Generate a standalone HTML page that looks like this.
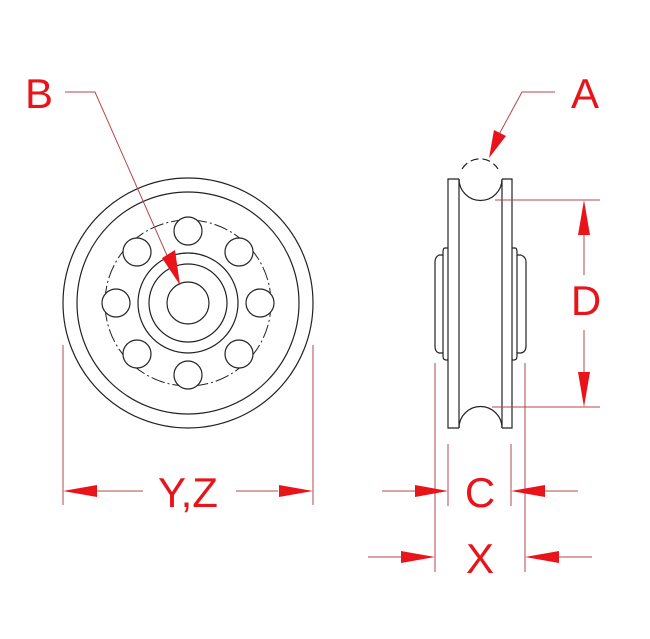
<!DOCTYPE html>
<html><head><style>html,body{margin:0;padding:0;background:#fff}svg{display:block}</style></head>
<body>
<svg width="650" height="639" viewBox="0 0 650 639" xmlns="http://www.w3.org/2000/svg">
<g fill="none" stroke="#222" stroke-width="1.2">
  <circle cx="188" cy="303" r="125"/>
  <circle cx="188" cy="303" r="111"/>
  <circle cx="188" cy="303" r="83" stroke-dasharray="14 3 2 3" stroke-width="1"/>
  <circle cx="188" cy="303" r="50"/>
  <circle cx="188" cy="303" r="39"/>
  <circle cx="188" cy="303" r="21"/>
  <g fill="#fff">
  <circle cx="188" cy="231" r="14"/><circle cx="188" cy="375" r="14"/>
  <circle cx="116" cy="303" r="14"/><circle cx="260" cy="303" r="14"/>
  <circle cx="137" cy="252" r="14"/><circle cx="239" cy="252" r="14"/>
  <circle cx="137" cy="354" r="14"/><circle cx="239" cy="354" r="14"/>
  </g>
  <!-- side view -->
  <path d="M459 179 H448 V428 H459"/>
  <path d="M502 179 H512 V428 H502"/>
  <line x1="459" y1="179" x2="459" y2="428"/>
  <line x1="502" y1="179" x2="502" y2="428"/>
  <path d="M459 179 A21 21 0 0 0 502 179"/>
  <path d="M459 428 A21 21 0 0 1 502 428"/>
  <path d="M462 169 A21 21 0 0 1 498 169" stroke-dasharray="8 4"/>
  <path d="M448 248 H445 Q443 248 443 252 V255 H439 Q435 257 435 262 V346 Q435 352 439 353 H443 V356 Q443 360 446 360 H448"/>
  <line x1="443" y1="255" x2="443" y2="353"/>
  <path d="M512 248 H515 Q517 248 517 252 V255 H521 Q526 257 526 262 V346 Q526 352 521 353 H517 V356 Q517 360 514 360 H512"/>
  <line x1="517" y1="255" x2="517" y2="353"/>
</g>
<g fill="none" stroke="#b5474b" stroke-width="1">
  <polyline points="65,92 95,92 180,285"/>
  <polyline points="555,92 522,92 496,140"/>
  <line x1="495" y1="200" x2="600" y2="200"/>
  <line x1="492" y1="407" x2="600" y2="407"/>
  <line x1="584" y1="230" x2="584" y2="275"/>
  <line x1="584" y1="330" x2="584" y2="377"/>
  <line x1="63" y1="345" x2="63" y2="505"/>
  <line x1="313" y1="345" x2="313" y2="505"/>
  <line x1="97" y1="491" x2="143" y2="491"/>
  <line x1="236" y1="491" x2="278" y2="491"/>
  <line x1="435" y1="363" x2="435" y2="572"/>
  <line x1="525" y1="363" x2="525" y2="572"/>
  <line x1="448" y1="444" x2="448" y2="506"/>
  <line x1="511" y1="444" x2="511" y2="506"/>
  <line x1="382" y1="491" x2="415" y2="491"/>
  <line x1="545" y1="491" x2="578" y2="491"/>
  <line x1="368" y1="557" x2="401" y2="557"/>
  <line x1="559" y1="557" x2="592" y2="557"/>
</g>
<g fill="#e8141a">
  <polygon points="180,285 162,258 175,250"/>
  <polygon points="489,158 494,130 506,136"/>
  <polygon points="584,200 578,235 590,235"/>
  <polygon points="584,407 578,372 590,372"/>
  <polygon points="63,491 97,485 97,497"/>
  <polygon points="313,491 279,485 279,497"/>
  <polygon points="448,491 415,485 415,497"/>
  <polygon points="511,491 545,485 545,497"/>
  <polygon points="435,557 401,551 401,563"/>
  <polygon points="525,557 559,551 559,563"/>
</g>
<g fill="#e8141a" font-family="Liberation Sans, sans-serif" font-size="42" text-anchor="middle">
  <text x="39" y="108">B</text>
  <text x="585" y="108">A</text>
  <text x="586" y="315">D</text>
  <text x="188" y="507">Y,Z</text>
  <text x="480" y="507">C</text>
  <text x="480" y="573">X</text>
</g>
</svg>
</body></html>
